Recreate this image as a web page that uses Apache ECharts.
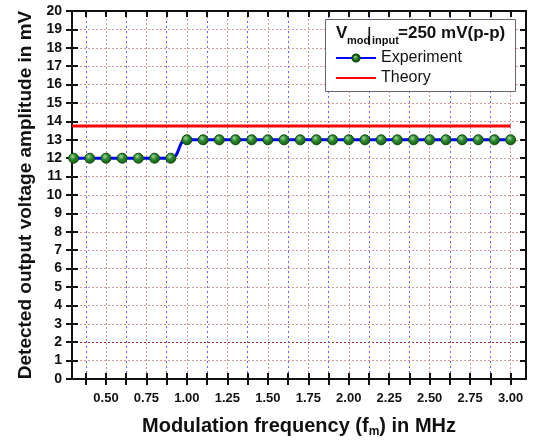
<!DOCTYPE html>
<html>
<head>
<meta charset="utf-8">
<script src="https://cdn.jsdelivr.net/npm/echarts@6/dist/echarts.min.js"></script>
<style>
  html, body { margin: 0; padding: 0; background: #fff; }
  #chart { width: 533px; height: 443px; }
</style>
</head>
<body>
<div id="chart"></div>
<script>
// measured frequencies (MHz) and detected amplitude (mV)
const freqs = [0.3, 0.4, 0.5, 0.6, 0.7, 0.8, 0.9, 1.0, 1.1, 1.2, 1.3, 1.4, 1.5, 1.6,
  1.7, 1.8, 1.9, 2.0, 2.1, 2.2, 2.3, 2.4, 2.5, 2.6, 2.7, 2.8, 2.9, 3.0];
const experiment = [12, 12, 12, 12, 12, 12, 12, 13, 13, 13, 13, 13, 13, 13,
  13, 13, 13, 13, 13, 13, 13, 13, 13, 13, 13, 13, 13, 13];
const theoryFreqs = [0.29, 3.0];
const theory = [13.75, 13.75];

// x axis ticks: labelled majors + minor (blue grid) positions
const majorTicks = [0.5, 0.75, 1.0, 1.25, 1.5, 1.75, 2.0, 2.25, 2.5, 2.75, 3.0];
const minorTicks = [0.375, 0.625, 0.875, 1.125, 1.375, 1.625, 1.875, 2.125, 2.375, 2.625, 2.875];
const xMin = 0.29, xMax = 3.095;
const yMin = 0, yMax = 20, yStep = 1;

const FONT = '"Liberation Sans", Arial, sans-serif';
const BLACK = '#111';
const RED_GRID = '#d89898';
const BLUE_GRID = '#6464ff';

// horizontal grid: the 2 mV line is drawn darker in the original
const hGridColors = [];
for (let v = yMin; v <= yMax; v += yStep) hGridColors.push(v === 2 ? '#b03030' : RED_GRID);

function xAx(extra) {
  return Object.assign({
    type: 'value', min: xMin, max: xMax, position: 'bottom',
    axisLine: { show: false },
    axisTick: { show: false },
    axisLabel: { show: false },
    splitLine: { show: false },
    minorTick: { show: false }
  }, extra);
}
function yAx(extra) {
  return Object.assign({
    type: 'value', min: yMin, max: yMax, interval: yStep, position: 'left',
    axisLine: { show: false },
    axisTick: { show: false },
    axisLabel: { show: false },
    splitLine: { show: false }
  }, extra);
}

const chart = echarts.init(document.getElementById('chart'), null, { renderer: 'canvas' });

chart.setOption({
  animation: false,
  backgroundColor: '#fff',
  grid: { left: 72, right: 7, top: 11, bottom: 64, outerBoundsMode: 'none' },
  legend: {
    orient: 'vertical',
    left: 335, top: 50, z: 70, padding: 0,
    itemWidth: 40, itemHeight: 9, itemGap: 4,
    textStyle: { fontFamily: FONT, fontSize: 16, color: '#111' },
    data: ['Experiment', { name: 'Theory', itemStyle: { opacity: 0 } }]
  },
  xAxis: [
    xAx({
      axisLine: { show: true, onZero: false, lineStyle: { color: BLACK, width: 2 } },
      axisTick: { show: true, customValues: majorTicks, length: 6, lineStyle: { color: BLACK, width: 2 } },
      axisLabel: {
        show: true, customValues: majorTicks, margin: 13,
        fontFamily: FONT, fontSize: 13, fontWeight: 'bold', color: BLACK,
        formatter: v => v.toFixed(2)
      },
      splitLine: { show: true, lineStyle: { color: RED_GRID, width: 1, type: [2, 2] } },
      name: 'Modulation frequency (f{sub|m}) in MHz',
      nameLocation: 'middle', nameGap: 35,
      nameTextStyle: {
        fontFamily: FONT, fontSize: 20, fontWeight: 'bold', color: BLACK,
        rich: { sub: { fontFamily: FONT, fontSize: 12, fontWeight: 'bold', color: BLACK, padding: [12, 0, 0, 0] } }
      }
    }),
    xAx({
      axisTick: { show: true, inside: true, customValues: majorTicks, length: 6, lineStyle: { color: BLACK, width: 2 } }
    }),
    xAx({
      axisTick: { show: true, customValues: minorTicks, length: 6, lineStyle: { color: BLACK, width: 2 } },
      splitLine: { show: true, lineStyle: { color: BLUE_GRID, width: 1, type: [2, 3] } }
    }),
    xAx({
      axisTick: { show: true, inside: true, customValues: minorTicks, length: 6, lineStyle: { color: BLACK, width: 2 } }
    }),
    xAx({
      position: 'top',
      axisLine: { show: true, onZero: false, lineStyle: { color: BLACK, width: 2 } },
      axisTick: { show: true, inside: true, customValues: majorTicks.concat(minorTicks), length: 6, lineStyle: { color: BLACK, width: 2 } }
    })
  ],
  yAxis: [
    yAx({
      axisLine: { show: true, onZero: false, lineStyle: { color: BLACK, width: 2 } },
      axisTick: { show: true, length: 6, lineStyle: { color: BLACK, width: 2 } },
      axisLabel: { show: true, margin: 10, fontFamily: FONT, fontSize: 14, fontWeight: 'bold', color: BLACK },
      splitLine: { show: true, lineStyle: { color: hGridColors, width: 1, type: [2, 2] } },
      name: 'Detected output voltage amplitude in mV',
      nameLocation: 'middle', nameGap: 36,
      nameTextStyle: { fontFamily: FONT, fontSize: 19, fontWeight: 'bold', color: BLACK }
    }),
    yAx({
      axisTick: { show: true, inside: true, length: 6, lineStyle: { color: BLACK, width: 2 } }
    }),
    yAx({
      position: 'right',
      axisLine: { show: true, onZero: false, lineStyle: { color: BLACK, width: 2 } },
      axisTick: { show: true, inside: true, length: 6, lineStyle: { color: BLACK, width: 2 } }
    })
  ],
  graphic: [
    {
      type: 'rect', left: 325, top: 19, z: 50,
      shape: { width: 190, height: 72 },
      style: { fill: '#fff', stroke: '#666', lineWidth: 1 }
    },
    { type: 'text', z: 60, style: { x: 336, y: 25, text: 'V', font: 'bold 17px ' + FONT, fill: BLACK } },
    { type: 'text', z: 60, style: { x: 347, y: 35, text: 'mod', font: 'bold 11px ' + FONT, fill: BLACK } },
    { type: 'rect', z: 60, shape: { x: 368.5, y: 27, width: 1.6, height: 18 }, style: { fill: BLACK } },
    { type: 'text', z: 60, style: { x: 372, y: 35, text: 'input', font: 'bold 11px ' + FONT, fill: BLACK } },
    { type: 'text', z: 60, style: { x: 398, y: 25, text: '=250 mV(p-p)', font: 'bold 17px ' + FONT, fill: BLACK } }
  ],
  series: [
    {
      name: 'Experiment',
      type: 'line',
      xAxisIndex: 0, yAxisIndex: 0,
      data: freqs.map((f, i) => [f, experiment[i]]),
      smooth: 0.6,
      smoothMonotone: 'x',
      symbol: 'circle',
      symbolSize: 10,
      z: 5,
      lineStyle: { color: '#0000ff', width: 3 },
      itemStyle: {
        color: new echarts.graphic.RadialGradient(0.4, 0.35, 0.6, [
          { offset: 0, color: '#a8d8a0' },
          { offset: 0.45, color: '#2e8b2e' },
          { offset: 1, color: '#145f14' }
        ]),
        borderColor: '#0e4d0e', borderWidth: 1
      }
    },
    {
      name: 'Theory',
      type: 'line',
      xAxisIndex: 0, yAxisIndex: 0,
      data: theoryFreqs.map((f, i) => [f, theory[i]]),
      symbol: 'none',
      z: 4,
      lineStyle: { color: '#ff0000', width: 3 },
      itemStyle: { color: '#ff0000' }
    }
  ]
});
</script>
</body>
</html>
